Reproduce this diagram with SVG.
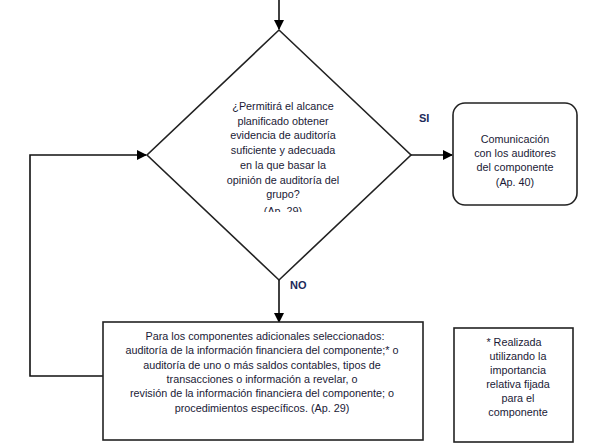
<svg xmlns="http://www.w3.org/2000/svg" width="589" height="447" viewBox="0 0 589 447">
<style>
.t{font-family:"Liberation Sans",Arial,sans-serif;font-size:10.8px;fill:#1a1a36;text-anchor:middle}
.lbl{font-family:"Liberation Sans",Arial,sans-serif;font-size:11px;fill:#1c2a5a;font-weight:bold}
.shape{fill:#fff;stroke:#222;stroke-width:1.6}
.c{fill:none;stroke:#111;stroke-width:1.6}
</style>
<defs>
<marker id="ah" markerWidth="10" markerHeight="10" refX="9" refY="5" orient="auto" markerUnits="userSpaceOnUse">
<path d="M0,0 L10,5 L0,10 Z" fill="#000"/>
</marker>
<clipPath id="dclip"><rect x="150" y="0" width="260" height="212"/></clipPath>
</defs>
<rect width="589" height="447" fill="#fff"/>
<g id="connectors">
<path class="c" d="M279,0 V29" marker-end="url(#ah)"/>
<path class="c" d="M411,155 H452" marker-end="url(#ah)"/>
<path class="c" d="M279,280 V322" marker-end="url(#ah)"/>
<path class="c" d="M103,376 H30 V155 H146" marker-end="url(#ah)"/>
</g>
<g id="decision">
<polygon class="shape" points="279,30 411,155 279,280 147,155"/>
<g clip-path="url(#dclip)">
<text class="t" x="283" y="110">¿Permitirá el alcance</text>
<text class="t" x="283" y="125">planificado obtener</text>
<text class="t" x="283" y="139">evidencia de auditoría</text>
<text class="t" x="283" y="154">suficiente y adecuada</text>
<text class="t" x="283" y="169">en la que basar la</text>
<text class="t" x="283" y="184">opinión de auditoría del</text>
<text class="t" x="283" y="198">grupo?</text>
<text class="t" x="283" y="215">(Ap. 29)</text>
</g>
</g>
<text class="lbl" x="419" y="122">SI</text>
<text class="lbl" x="290" y="289">NO</text>
<g id="comunicacion">
<rect class="shape" x="453" y="103" width="124" height="102" rx="12"/>
<text class="t" x="515" y="143">Comunicación</text>
<text class="t" x="515" y="157">con los auditores</text>
<text class="t" x="515" y="171">del componente</text>
<text class="t" x="515" y="186">(Ap. 40)</text>
</g>
<g id="procedimientos">
<rect class="shape" x="103" y="322" width="320" height="118"/>
<text class="t" x="265" y="340">Para los componentes adicionales seleccionados:</text>
<text class="t" x="262" y="354">auditoría de la información financiera del componente;* o</text>
<text class="t" x="262" y="369">auditoría de uno o más saldos contables, tipos de</text>
<text class="t" x="262" y="383">transacciones o información a revelar, o</text>
<text class="t" x="262" y="397">revisión de la información financiera del componente; o</text>
<text class="t" x="262" y="412">procedimientos específicos. (Ap. 29)</text>
</g>
<g id="nota">
<rect class="shape" x="454" y="328" width="119" height="114"/>
<text class="t" x="514" y="346">* Realizada</text>
<text class="t" x="518" y="360">utilizando la</text>
<text class="t" x="518" y="374">importancia</text>
<text class="t" x="518" y="388">relativa fijada</text>
<text class="t" x="518" y="402">para el</text>
<text class="t" x="518" y="416">componente</text>
</g>
</svg>
